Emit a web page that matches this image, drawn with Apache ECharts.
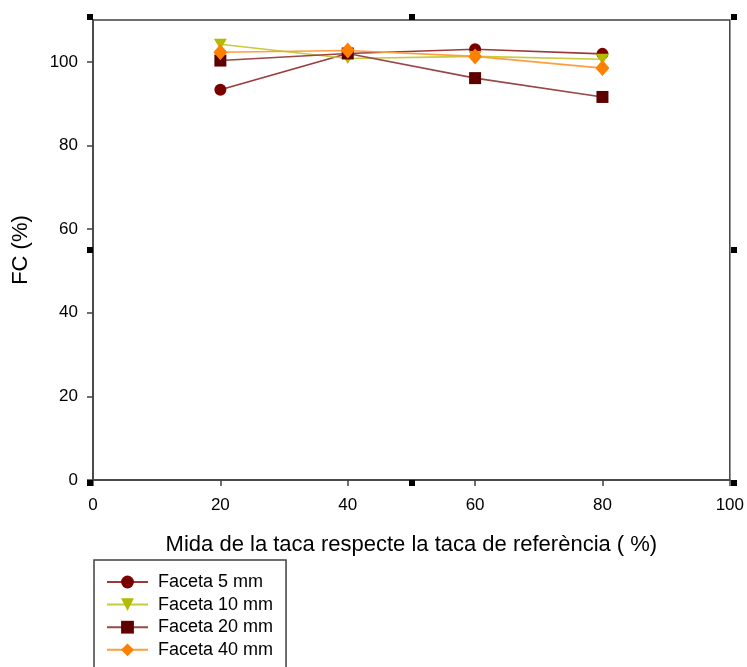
<!DOCTYPE html>
<html>
<head>
<meta charset="utf-8">
<script src="https://cdn.jsdelivr.net/npm/echarts@6/dist/echarts.min.js"></script>
<style>
html,body{margin:0;padding:0;background:#fff;}
#main{width:747px;height:667px;}
</style>
</head>
<body>
<div id="main"></div>
<script>
var xValues = [20, 40, 60, 80];
var faceta5 = [93.3, 102.0, 103.0, 101.9];
var faceta10 = [104.2, 100.8, 101.3, 100.6];
var faceta20 = [100.3, 102.0, 96.1, 91.6];
var faceta40 = [102.3, 102.7, 101.3, 98.5];
var seriesNames = ['Faceta 5 mm', 'Faceta 10 mm', 'Faceta 20 mm', 'Faceta 40 mm'];
var yTicks = [0, 20, 40, 60, 80, 100];
var xTicks = [0, 20, 40, 60, 80, 100];

function pairs(vals){ return xValues.map(function(x,i){ return [x, vals[i]]; }); }

var FONT = '"Liberation Sans", Arial, sans-serif';
var G = {left: 93, top: 20, right: 16, bottom: 187};
var W = 747, H = 667;

var chart = echarts.init(document.getElementById('main'), null, {renderer: 'canvas'});

var x0 = G.left, x1 = W - G.right, y0 = G.top, y1 = H - G.bottom;
var xm = (x0 + x1) / 2, ym = (y0 + y1) / 2;
var sq = 6;
var handles = [
  [x0 - sq, y0 - sq], [xm - sq/2, y0 - sq], [x1, y0 - sq],
  [x0 - sq, ym - sq/2], [x1, ym - sq/2],
  [x0 - sq, y1], [xm - sq/2, y1], [x1, y1]
].map(function(p){
  return {type: 'rect', shape: {x: p[0], y: p[1], width: sq, height: sq}, style: {fill: '#000'}, z: 100};
});

chart.setOption({
  animation: false,
  backgroundColor: '#fff',
  textStyle: {fontFamily: FONT},
  grid: {left: G.left, top: G.top, right: G.right, bottom: G.bottom, show: true, borderColor: '#404040', borderWidth: 1.5, backgroundColor: 'transparent'},
  xAxis: {
    type: 'value', min: 0, max: 100, interval: 20,
    name: 'Mida de la taca respecte la taca de referència ( %)',
    nameLocation: 'middle', nameGap: 54,
    nameTextStyle: {fontSize: 22, color: '#000', fontFamily: FONT},
    axisLine: {show: true, onZero: false, lineStyle: {color: '#404040', width: 1.5}},
    axisTick: {show: true, inside: false, length: 6, lineStyle: {color: '#404040', width: 1.5}},
    axisLabel: {fontSize: 17, color: '#000', margin: 17, fontFamily: FONT, customValues: xTicks},
    splitLine: {show: false}
  },
  yAxis: {
    type: 'value', min: 0, max: 110, interval: 20,
    name: 'FC (%)',
    nameLocation: 'middle', nameGap: 61,
    nameTextStyle: {fontSize: 22, color: '#000', fontFamily: FONT},
    axisLine: {show: true, onZero: false, lineStyle: {color: '#404040', width: 1.5}},
    axisTick: {show: true, inside: false, length: 6, lineStyle: {color: '#404040', width: 1.5}, customValues: yTicks},
    axisLabel: {fontSize: 17, color: '#000', margin: 15, fontFamily: FONT, customValues: yTicks},
    splitLine: {show: false}
  },
  legend: {
    orient: 'vertical', left: 94, top: 560, height: 160,
    borderColor: '#404040', borderWidth: 1.5, borderRadius: 0,
    padding: [13, 13, 20, 12],
    itemWidth: 41, itemHeight: 16, itemGap: 4.6,
    textStyle: {fontSize: 18, color: '#000', fontFamily: FONT, padding: [0, 0, 0, 5]},
    data: seriesNames
  },
  series: [
    {name: seriesNames[0], type: 'line', data: pairs(faceta5), symbol: 'circle', symbolSize: 12,
     itemStyle: {color: '#7a0000'}, lineStyle: {color: '#9c3a3a', width: 1.6}},
    {name: seriesNames[1], type: 'line', data: pairs(faceta10), symbol: 'triangle', symbolRotate: 180, symbolSize: [13, 11],
     itemStyle: {color: '#b3bb00'}, lineStyle: {color: '#c6cc3a', width: 1.6}},
    {name: seriesNames[2], type: 'line', data: pairs(faceta20), symbol: 'rect', symbolSize: 12,
     itemStyle: {color: '#5e0000'}, lineStyle: {color: '#9a4646', width: 1.6}},
    {name: seriesNames[3], type: 'line', data: pairs(faceta40), symbol: 'diamond', symbolSize: [14, 16],
     itemStyle: {color: '#ff8000'}, lineStyle: {color: '#ff9d40', width: 1.6}}
  ],
  graphic: handles
});
</script>
</body>
</html>
